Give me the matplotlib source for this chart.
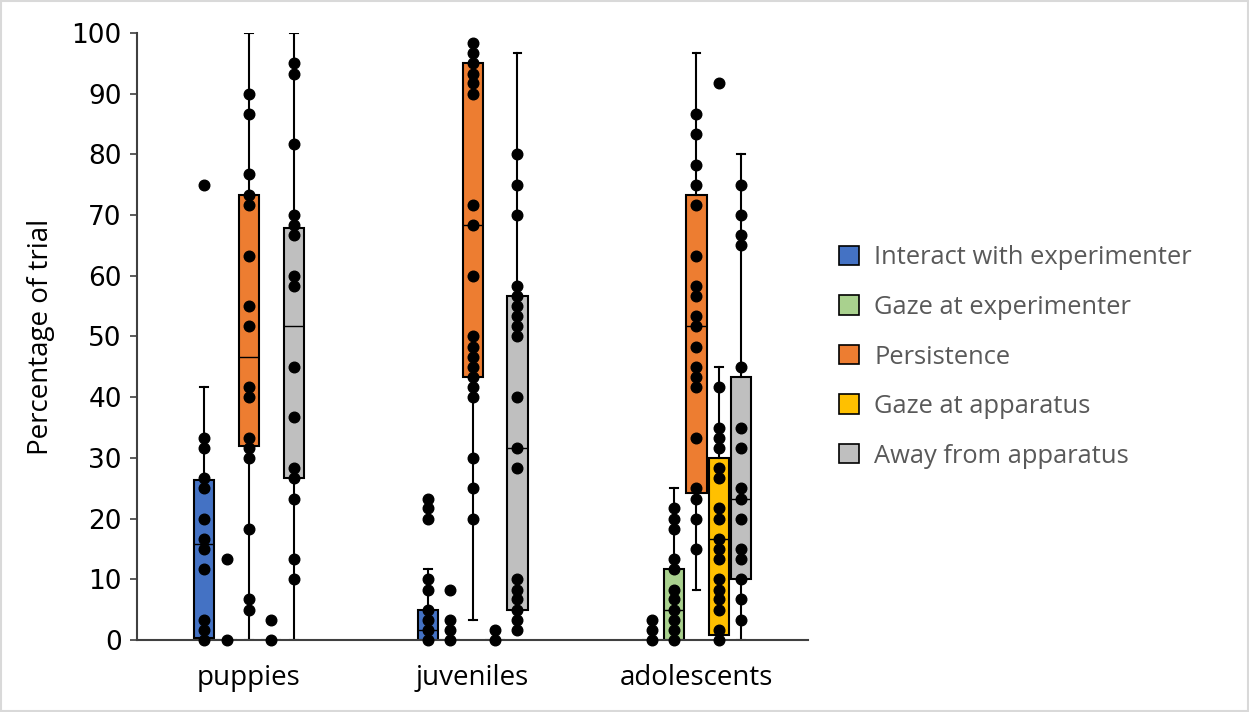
import matplotlib.pyplot as plt
from matplotlib.patches import Patch, Rectangle

groups = ["puppies", "juveniles", "adolescents"]
behaviours = ["Interact with experimenter", "Gaze at experimenter", "Persistence",
              "Gaze at apparatus", "Away from apparatus"]
colors = ["#4472C4", "#A9D18E", "#ED7D31", "#FFC000", "#BFBFBF"]

# individual points, one list per group (puppies, juveniles, adolescents)
interact_pts = [
    [75, 33.3, 31.7, 26.7, 25, 20, 16.7, 15, 11.7, 3.3, 1.7, 0],
    [23.3, 21.7, 20, 10, 8.3, 5, 3.3, 1.7, 0],
    [3.3, 1.7, 0],
]
gaze_exp_pts = [
    [13.3, 0],
    [8.3, 3.3, 1.7, 0],
    [21.7, 20, 18.3, 13.3, 11.7, 8.3, 6.7, 5, 3.3, 1.7, 0],
]
persist_pts = [
    [90, 86.7, 76.7, 73.3, 71.7, 63.3, 55, 51.7, 41.7, 40, 33.3, 31.7, 30, 18.3, 6.7, 5],
    [98.3, 96.7, 95, 93.3, 91.7, 90, 71.7, 68.3, 60, 50, 48.3, 46.7, 45, 43.3, 41.7, 40,
     30, 25, 20],
    [86.7, 83.3, 78.3, 75, 71.7, 63.3, 58.3, 56.7, 53.3, 51.7, 48.3, 45, 43.3, 41.7, 33.3,
     25, 23.3, 20, 15],
]
gaze_app_pts = [
    [3.3, 0],
    [1.7, 0],
    [91.7, 41.7, 35, 33.3, 31.7, 28.3, 26.7, 21.7, 20, 16.7, 15, 13.3, 10, 8.3, 6.7, 5,
     1.7, 0],
]
away_pts = [
    [95, 93.3, 81.7, 70, 68.3, 66.7, 60, 58.3, 45, 36.7, 28.3, 26.7, 23.3, 13.3, 10],
    [80, 75, 70, 58.3, 56.7, 55, 53.3, 51.7, 50, 40, 31.7, 28.3, 10, 8.3, 6.7, 5, 3.3, 1.7],
    [75, 70, 66.7, 65, 45, 35, 31.7, 25, 23.3, 20, 15, 13.3, 10, 6.7, 3.3],
]

# box stats: [whisker low, q1, median, q3, whisker high]
interact_box = [[0, 0.4, 15.8, 26.3, 41.7], [0, 0, 1.7, 5, 11.7], [0, 0, 0, 0, 0]]
gaze_exp_box = [[0, 0, 0, 0, 0], [0, 0, 0, 0, 0], [0, 0, 5, 11.7, 25]]
persist_box = [[0, 32, 46.7, 73.3, 100], [3.3, 43.3, 68.3, 95, 95], [8.3, 24.2, 51.7, 73.3, 96.7]]
gaze_app_box = [[0, 0, 0, 0, 0], [0, 0, 0, 0, 0], [0, 0.8, 16.7, 30, 45]]
away_box = [[0, 26.7, 51.7, 67.9, 100], [1.7, 5, 31.7, 56.7, 96.7], [0, 10, 23.3, 43.3, 80]]

all_pts = [interact_pts, gaze_exp_pts, persist_pts, gaze_app_pts, away_pts]
all_box = [interact_box, gaze_exp_box, persist_box, gaze_app_box, away_box]

fig = plt.figure(figsize=(12.49, 7.12), dpi=100)
ax = fig.add_axes([0.1097, 0.1011, 0.5375, 0.8526])

centers = [0.5, 1.5, 2.5]
step = 0.1
for j, (pts, box) in enumerate(zip(all_pts, all_box)):
    pos = [c + (j - 2) * step for c in centers]
    stats = []
    for b in box:
        stats.append(dict(whislo=b[0], q1=b[1], med=b[2], q3=b[3], whishi=b[4], fliers=[]))
    ax.bxp(stats, positions=pos, widths=0.09, patch_artist=True, showfliers=False,
           capwidths=0.035, manage_ticks=False,
           boxprops=dict(facecolor=colors[j], edgecolor='black', linewidth=1.5),
           medianprops=dict(color='black', linewidth=1),
           whiskerprops=dict(color='black', linewidth=1.5),
           capprops=dict(color='black', linewidth=1.5))
    for p, vals in zip(pos, pts):
        ax.scatter([p] * len(vals), vals, s=58, color='black', zorder=3, clip_on=False)

ax.set_xlim(0, 3)
ax.set_ylim(0, 100)
ax.set_yticks(range(0, 101, 10))
ax.set_xticks(centers)
ax.set_xticklabels(groups, fontsize=20, family='Open Sans')
ax.tick_params(axis='x', length=0, pad=17)
ax.tick_params(axis='y', labelsize=19, length=5, width=1.2, color='#404040', pad=6)
ax.spines['top'].set_visible(False)
ax.spines['right'].set_visible(False)
for s in ['left', 'bottom']:
    ax.spines[s].set_color('#404040')
    ax.spines[s].set_linewidth(1.5)
ax.set_ylabel('Percentage of trial', fontsize=20, family='Open Sans')
ax.yaxis.set_label_coords(-0.122, 0.5)

handles = [Patch(facecolor=c, edgecolor='black', linewidth=1.2) for c in colors]
leg = fig.legend(handles, behaviours, loc='center left',
                 bbox_to_anchor=(0.653, 1 - 357 / 712), frameon=False,
                 prop=dict(family='Open Sans', size=18.4), handlelength=0.8,
                 handleheight=0.8, labelspacing=0.96, handletextpad=0.6)
for t in leg.get_texts():
    t.set_color('#595959')

fig.patches.append(Rectangle((0.001, 0.001), 0.998, 0.997, transform=fig.transFigure,
                             fill=False, edgecolor='#d9d9d9', linewidth=1.5))

fig.savefig('out.png', dpi=100)
